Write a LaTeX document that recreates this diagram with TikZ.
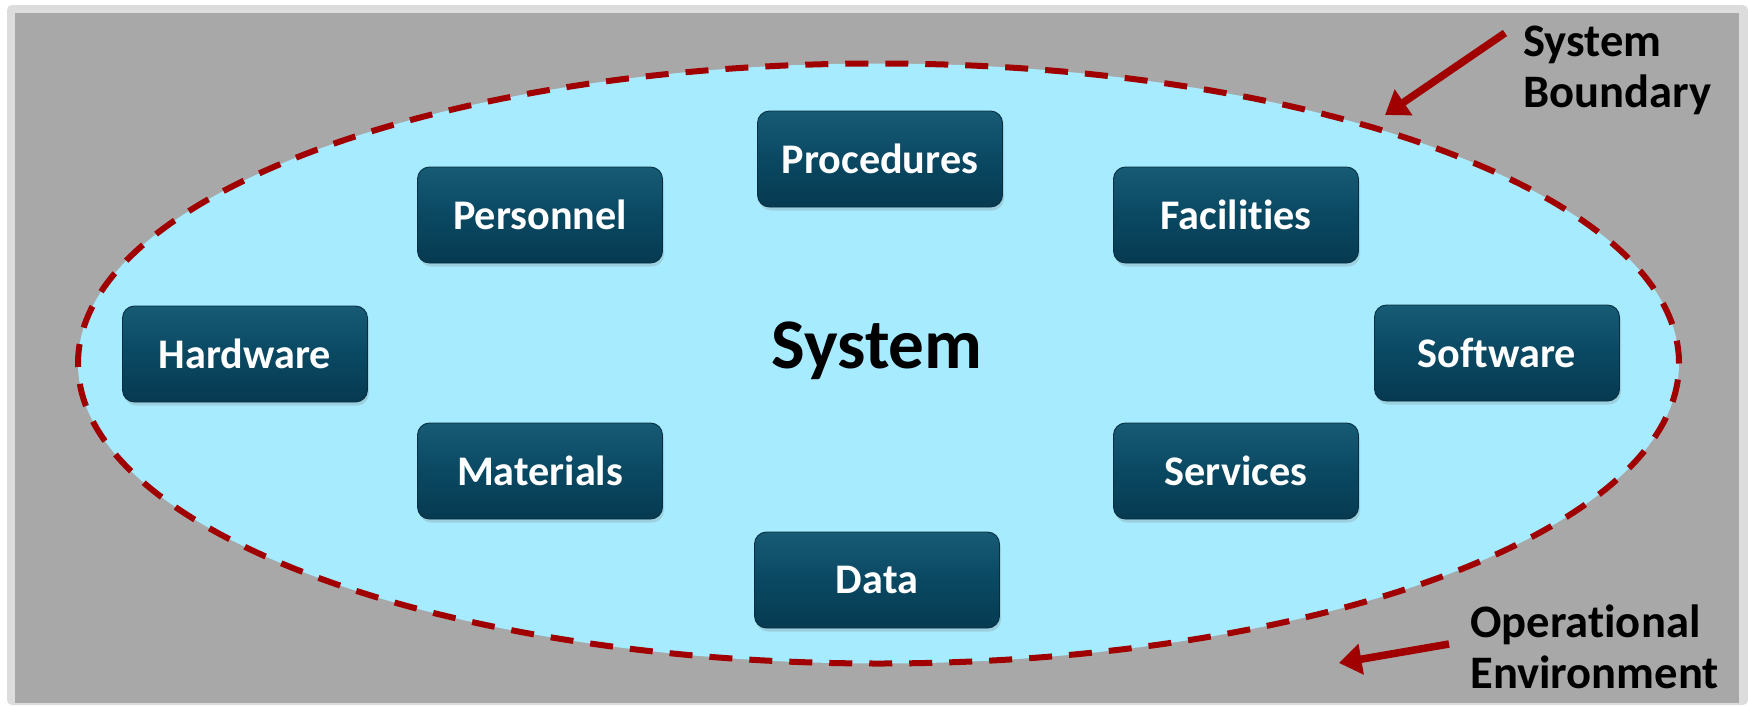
\documentclass[tikz,border=0pt]{standalone}
\usepackage{fontspec}
\setmainfont{Carlito}[Ligatures=NoCommon]
\definecolor{env_frame}{HTML}{DCDCDC}
\definecolor{env_gray}{HTML}{A8A8A8}
\definecolor{sys_fill}{HTML}{A6EBFF}
\definecolor{sys_red}{HTML}{A00000}
\definecolor{blk_top}{HTML}{175B75}
\definecolor{blk_mid}{HTML}{0A4862}
\definecolor{blk_bot}{HTML}{063A51}
\usepackage{tikz}
\usetikzlibrary{arrows.meta, positioning, shadows}

\begin{document}
\begin{tikzpicture}[font=\bfseries,
        blk/.style={draw=blk_bot!80!black, line width=0.5pt, rounded corners=0.24cm,
                    top color=blk_top, bottom color=blk_bot, middle color=blk_mid,
                    text=white, align=center, inner sep=0pt,
                    minimum width=4.9cm, minimum height=1.92cm,
                    font=\bfseries\fontsize{24}{28}\selectfont,
                    drop shadow={opacity=0.25, shadow xshift=0.03cm, shadow yshift=-0.07cm}},
        note/.style={anchor=base west, align=left, inner sep=0pt,
                     font=\bfseries\fontsize{26.5}{28.8}\selectfont},
        pointer/.style={-{Triangle[length=0.45cm, width=0.6cm]}, line width=0.15cm, sys_red}]
        \useasboundingbox (0, 0) rectangle (34.96, 14.1);
        % Environment
        \fill[env_frame, rounded corners=0.1cm] (0.14, 0) rectangle (34.96, 14.0);
        \fill[env_gray] (0.30, 0.04) rectangle (34.78, 13.84);
        % Boundary
        \draw[sys_red, fill=sys_fill, line width=0.12cm, dash pattern=on 0.46cm off 0.34cm]
          (17.57, 6.83) ellipse [x radius=16.01cm, y radius=6.0cm];
        \node[anchor=base, inner sep=0pt, font=\bfseries\fontsize{40.5}{46}\selectfont]
          (sys) at (17.54, 6.74) {System};
        % Elements
        \node[blk] (proc) at (17.60, 10.92) {Procedures};
        \node[blk] (pers) at (10.80, 9.80) {Personnel};
        \node[blk] (fac) at (24.72, 9.80) {Facilities};
        \node[blk] (hw) at (4.90, 7.02) {Hardware};
        \node[blk] (sw) at (29.94, 7.04) {Software};
        \node[blk] (mat) at (10.80, 4.68) {Materials};
        \node[blk] (serv) at (24.72, 4.68) {Services};
        \node[blk] (data) at (17.54, 2.50) {Data};
        % Labels (anchored on the last line)
        \node[note] (bnd) at (30.46, 11.96) {System\\Boundary};
        \node[note] (env) at (29.40, 0.34) {Operational\\Environment};
        \coordinate (bnd_tail) at (30.10, 13.44);
        \coordinate (bnd_tip) at (27.70, 11.80);
        \coordinate (env_tail) at (28.98, 1.22);
        \coordinate (env_tip) at (26.78, 0.84);
        \draw[pointer] (bnd_tail) -- (bnd_tip);
        \draw[pointer] (env_tail) -- (env_tip);
      \end{tikzpicture}
\end{document}
